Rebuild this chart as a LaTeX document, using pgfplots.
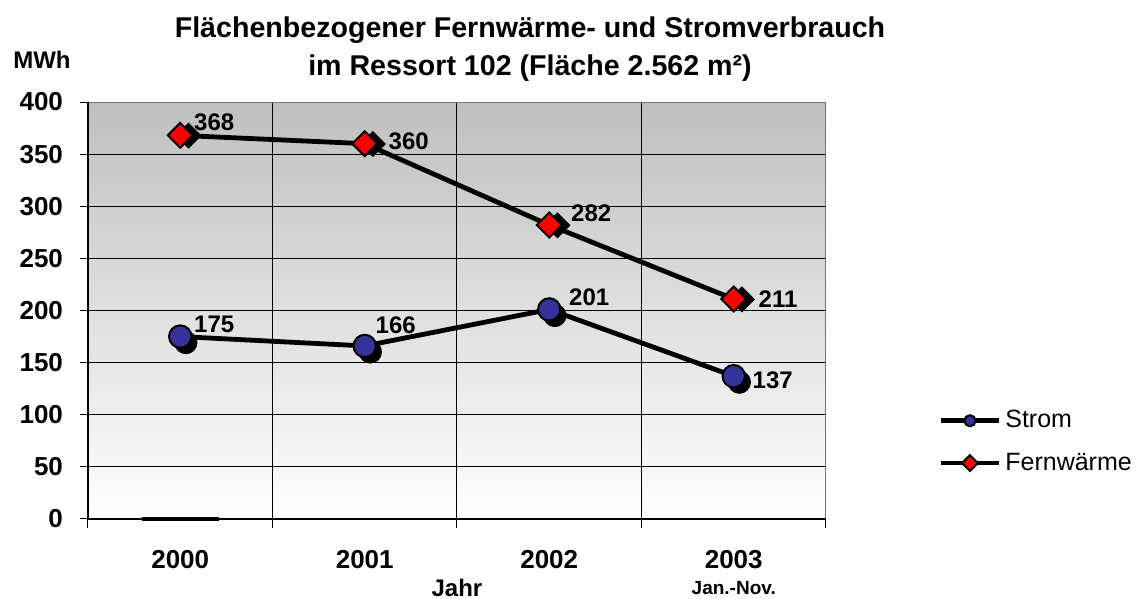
\documentclass[border=0pt]{standalone}
\usepackage{fontspec}
\setmainfont{Liberation Sans}
\usepackage{pgfplots}
\pgfplotsset{compat=1.18}
\usepackage{pgfplotstable}

\definecolor{stromblue}{RGB}{51,51,153}
\definecolor{fernred}{RGB}{255,0,0}

\pgfplotstableread{
x y dx dy
0 175 6.5 6.3
1 166 5 10.5
2 201 9.5 6
3 137 9 -2
}\strom
\pgfplotstableread{
x y dx dy
0 368 6.5 6.5
1 360 11.5 1
2 282 10.5 6
3 211 12 0
}\fern

\begin{document}
\begin{tikzpicture}
\useasboundingbox (-44pt,-40pt) rectangle (524.5pt,259.5pt);
\begin{axis}[
  at={(0,0)}, anchor=south west,
  scale only axis, width=369pt, height=208.5pt,
  xmin=-0.5, xmax=3.5, ymin=0, ymax=400,
  clip=false,
  /pgf/number format/assume math mode=true,
  xtick={0,1,2,3}, xticklabels={2000,2001,2002,2003},
  minor xtick={-0.5,0.5,1.5,2.5,3.5},
  ytick={0,50,...,400},
  major x tick style={draw=none},
  tick pos=left, tick align=outside,
  major tick length=4pt, minor tick length=4.5pt,
  every tick/.style={black, line width=0.5pt},
  xminorgrids, ymajorgrids,
  major grid style={black, line width=0.5pt},
  minor grid style={black, line width=0.5pt},
  axis line style={black!55, line width=0.5pt},
  axis background/.style={top color=black!25, bottom color=white},
  ticklabel style={font=\bfseries\fontsize{13}{15}\selectfont},
  yticklabel style={xshift=-5pt},
  xticklabel style={yshift=-8pt},
  xlabel={Jahr},
  xlabel style={font=\bfseries\fontsize{12}{14}\selectfont, at={(axis description cs:0.5,0)}, anchor=center, yshift=-34.5pt},
  legend style={at={(1.152,0.185)}, anchor=west, draw=none, fill=none,
     font=\fontsize{12.5}{14}\selectfont, row sep=7pt, inner sep=0pt},
  legend cell align=left,
  legend image code/.code={%
    \draw[#1, mark=none] (0pt,0pt) -- (29pt,0pt);
    \draw[#1, only marks, mark size=2.8pt, line width=0.8pt] plot coordinates {(14.5pt,0pt)};
  },
]
% zero-height bar
\addplot[forget plot, black, line width=2pt] coordinates {(-0.21,0) (0.21,0)};

% Strom shadow
\addplot[forget plot, only marks, mark=*, mark size=5.6pt, black,
  mark options={xshift=2.8pt, yshift=-3pt, fill=black}] table[x=x,y=y] {\strom};
% Strom
\addplot[black, line width=2.4pt, mark=*, mark size=5.6pt,
  mark options={fill=stromblue, draw=black, line width=1pt},
  visualization depends on={\thisrow{dx} \as \dx},
  visualization depends on={\thisrow{dy} \as \dy},
  nodes near coords,
  nodes near coords style={anchor=west, inner sep=0pt, xshift=\dx pt, yshift=\dy pt,
    font=\bfseries\fontsize{12}{14}\selectfont, text=black}]
  table[x=x,y=y] {\strom};
\addlegendentry{Strom}

% Fernwaerme shadow
\addplot[forget plot, only marks, mark=square*, mark size=4.4pt, black,
  mark options={rotate=45, xshift=2.8pt, yshift=-3pt, fill=black}] table[x=x,y=y] {\fern};
% Fernwaerme
\addplot[black, line width=2.4pt, mark=square*, mark size=4.4pt,
  mark options={rotate=45, fill=fernred, draw=black, line width=1pt},
  visualization depends on={\thisrow{dx} \as \dx},
  visualization depends on={\thisrow{dy} \as \dy},
  nodes near coords,
  nodes near coords style={anchor=west, inner sep=0pt, xshift=\dx pt, yshift=\dy pt,
    font=\bfseries\fontsize{12}{14}\selectfont, text=black}]
  table[x=x,y=y] {\fern};
\addlegendentry{Fernwärme}

\draw[black, line width=0.75pt] (rel axis cs:0,1) -- (rel axis cs:0,0) -- (rel axis cs:1,0);
\node[font=\bfseries\fontsize{9.5}{11}\selectfont] at ([yshift=-34.5pt]axis cs:3,0) {Jan.-Nov.};
\end{axis}
\node[font=\bfseries\fontsize{14.3}{16}\selectfont] at (221pt,244.5pt) {Flächenbezogener Fernwärme- und Stromverbrauch};
\node[font=\bfseries\fontsize{14.3}{16}\selectfont] at (221pt,225.5pt) {im Ressort 102 (Fläche 2.562 m²)};
\node[font=\bfseries\fontsize{12}{14}\selectfont] at (-23pt,229.5pt) {MWh};
\end{tikzpicture}
\end{document}
